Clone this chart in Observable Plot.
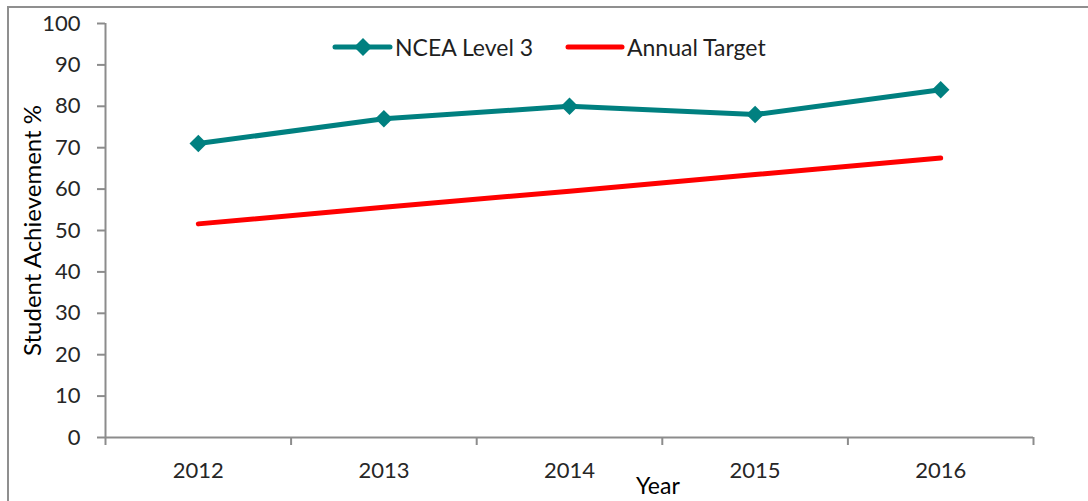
<!DOCTYPE html>
<html>
<head>
<meta charset="utf-8">
<script src="https://cdn.jsdelivr.net/npm/d3@7"></script>
<script src="https://cdn.jsdelivr.net/npm/@observablehq/plot@0.6"></script>
<style>
  body { margin: 0; background: #fff; }
  #wrap { position: relative; width: 1088px; height: 501px; overflow: hidden; font-family: Lato, "Open Sans", sans-serif; background: #fff; }
  #frame { position: absolute; left: 7px; top: 6px; width: 1200px; height: 600px; border-top: 2px solid #8f8f8f; border-left: 2px solid #8f8f8f; }
  #chart { position: absolute; left: 0; top: 0; }
  .lg { position: absolute; font-size: 23px; line-height: 24px; color: #1f1f1f; white-space: nowrap; }
  .sw { position: absolute; }
  #xtitle { position: absolute; left: 636px; top: 473px; font-size: 23px; line-height: 24px; color: #000; }
  g[aria-label="y-axis label"] text { font-size: 24px; fill: #000; }
</style>
</head>
<body>
<div id="wrap">
  <div id="frame"></div>
  <div id="chart"></div>
  <svg class="sw" style="left:330px;top:35px" width="65" height="24" id="sw1"></svg>
  <span class="lg" id="lg1" style="left:395px;top:35px"></span>
  <svg class="sw" style="left:563px;top:35px" width="65" height="24" id="sw2"></svg>
  <span class="lg" id="lg2" style="left:627px;top:35px"></span>
  <span id="xtitle"></span>
</div>
<script>
// ---- data ----
const years = [2012, 2013, 2014, 2015, 2016];
const nceaLevel3 = [71, 77, 80, 78, 84];
const annualTarget = [51.6, 55.6, 59.5, 63.5, 67.5];
const seriesNames = ["NCEA Level 3", "Annual Target"];
const seriesColors = ["#008080", "#FF0000"];
const yTicks = [0, 10, 20, 30, 40, 50, 60, 70, 80, 90, 100];
const yTitle = "Student Achievement %";
const xTitle = "Year";

// ---- derived tables ----
const nceaRows = years.map((year, i) => ({year, value: nceaLevel3[i]}));
const targetRows = years.map((year, i) => ({year, value: annualTarget[i]}));
const boundaries = years.map(y => y - 0.5).concat([years[years.length - 1] + 0.5]);

const axisGray = "#8c8c8c";
const diamond = {
  draw(context, size) {
    const h = Math.sqrt(size / 2);
    context.moveTo(0, -h);
    context.lineTo(h, 0);
    context.lineTo(0, h);
    context.lineTo(-h, 0);
    context.closePath();
  }
};

const chart = Plot.plot({
  width: 1088,
  height: 501,
  marginLeft: 105,
  marginRight: 55,
  marginTop: 23,
  marginBottom: 64,
  style: { fontFamily: "Lato, 'Open Sans', sans-serif", fontSize: "22px", color: "#262626", background: "transparent" },
  x: { domain: [boundaries[0], boundaries[boundaries.length - 1]] },
  y: { domain: [0, 100] },
  marks: [
    Plot.axisY({ ticks: yTicks, tickSize: 8, tickPadding: 17, stroke: axisGray, strokeWidth: 2, fill: "#262626",
                 label: yTitle, labelAnchor: "center", labelOffset: 82, labelArrow: "none" }),
    Plot.axisX({ ticks: boundaries, tickSize: 8, tickFormat: () => "", stroke: axisGray, strokeWidth: 2, label: null }),
    Plot.axisX({ ticks: years, tickSize: 0, tickPadding: 25, tickFormat: d => String(d), fill: "#262626", label: null }),
    Plot.ruleX([boundaries[0]], { stroke: axisGray, strokeWidth: 2 }),
    Plot.ruleY([0], { stroke: axisGray, strokeWidth: 2 }),
    Plot.line(targetRows, { x: "year", y: "value", stroke: seriesColors[1], strokeWidth: 5, strokeLinecap: "round" }),
    Plot.line(nceaRows, { x: "year", y: "value", stroke: seriesColors[0], strokeWidth: 5, strokeLinecap: "round" }),
    Plot.dot(nceaRows, { x: "year", y: "value", symbol: diamond, r: 7, fill: seriesColors[0], stroke: "none" })
  ]
});
document.getElementById("chart").appendChild(chart);

// ---- legend ----
const sw1 = d3.select("#sw1");
sw1.append("line").attr("x1", 5).attr("x2", 60).attr("y1", 12).attr("y2", 12)
  .attr("stroke", seriesColors[0]).attr("stroke-width", 5).attr("stroke-linecap", "round");
sw1.append("path").attr("d", "M33,3L42,12L33,21L24,12Z").attr("fill", seriesColors[0]);
const sw2 = d3.select("#sw2");
sw2.append("line").attr("x1", 5).attr("x2", 59).attr("y1", 12).attr("y2", 12)
  .attr("stroke", seriesColors[1]).attr("stroke-width", 5).attr("stroke-linecap", "round");
document.getElementById("lg1").textContent = seriesNames[0];
document.getElementById("lg2").textContent = seriesNames[1];
document.getElementById("xtitle").textContent = xTitle;
</script>
</body>
</html>
